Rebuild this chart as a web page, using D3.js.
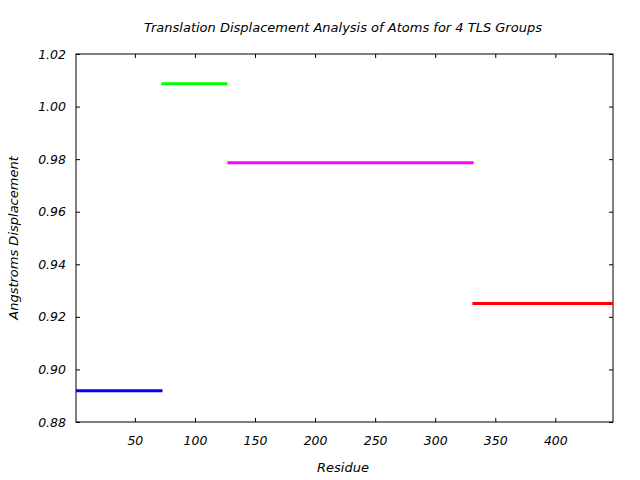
<!DOCTYPE html>
<html><head><meta charset="utf-8">
<script src="https://cdn.jsdelivr.net/npm/d3@7"></script>
<style>body{margin:0;background:#fff}svg{display:block}text{font-family:"DejaVu Sans",sans-serif;font-style:italic;font-size:13px;fill:#000}.tick text{font-size:12.5px}</style>
</head><body>
<script>
const groups = ["Group 1","Group 2","Group 3","Group 4"];
const startResidue = [1, 72, 127, 331];
const endResidue = [73, 127, 332, 448];
const displacement = [0.8919, 1.0087, 0.9786, 0.9251];
const colors = ["#0000ff","#00ff00","#ff00ff","#ff0000"];
const xTicks = [50,100,150,200,250,300,350,400];
const yTicks = [0.88,0.90,0.92,0.94,0.96,0.98,1.00,1.02];

const W=640,H=480, m={l:76,r:27,t:54,b:58};
const svg=d3.select("body").append("svg").attr("width",W).attr("height",H);
const x=d3.scaleLinear().domain([1,448]).range([m.l,W-m.r]);
const y=d3.scaleLinear().domain([0.88,1.02]).range([H-m.b,m.t]);
const g=svg.append("g");
g.append("rect").attr("x",m.l).attr("y",m.t).attr("width",W-m.r-m.l).attr("height",H-m.b-m.t).attr("fill","none").attr("stroke","#000").attr("stroke-width",1);
const ax=(a)=>a.call(s=>s.select(".domain").remove()).call(s=>s.selectAll("line").attr("stroke","#000"));
svg.append("g").attr("transform",`translate(0,${H-m.b})`).call(d3.axisBottom(x).tickValues(xTicks).tickSize(-4).tickPadding(14).tickFormat(d3.format("d"))).call(ax);
svg.append("g").attr("transform",`translate(0,${m.t})`).call(d3.axisTop(x).tickValues(xTicks).tickSize(-4).tickFormat("")).call(ax);
svg.append("g").attr("transform",`translate(${m.l},0)`).call(d3.axisLeft(y).tickValues(yTicks).tickSize(-4).tickPadding(10).tickFormat(d3.format(".2f"))).call(ax);
svg.append("g").attr("transform",`translate(${W-m.r},0)`).call(d3.axisRight(y).tickValues(yTicks).tickSize(-4).tickFormat("")).call(ax);
svg.selectAll(".tick text").attr("font-family",null).attr("font-size",null);
svg.append("g").selectAll("line.seg").data(groups).join("line")
 .attr("x1",(d,i)=>x(startResidue[i])).attr("x2",(d,i)=>x(endResidue[i]))
 .attr("y1",(d,i)=>y(displacement[i])).attr("y2",(d,i)=>y(displacement[i]))
 .attr("stroke",(d,i)=>colors[i]).attr("stroke-width",3);
svg.append("text").attr("x",343).attr("y",32).attr("text-anchor","middle").text("Translation Displacement Analysis of Atoms for 4 TLS Groups");
svg.append("text").attr("x",343).attr("y",472).attr("text-anchor","middle").text("Residue");
svg.append("text").attr("transform","translate(18,238) rotate(-90)").attr("text-anchor","middle").text("Angstroms Displacement");
</script>
</body></html>
